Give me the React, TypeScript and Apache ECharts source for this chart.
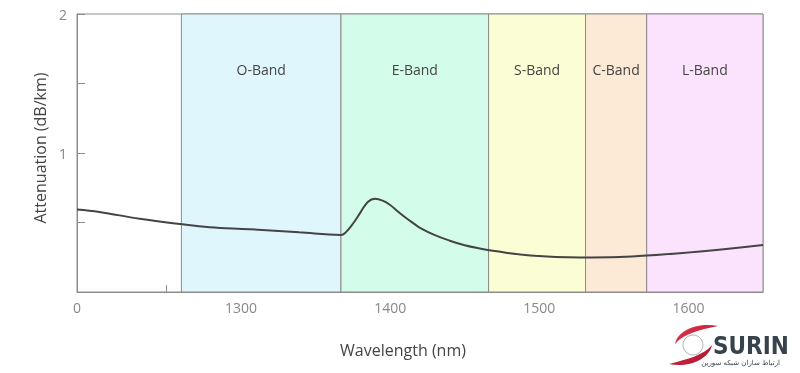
import React, { useEffect, useRef } from "react";
import * as echarts from "echarts";

// ---- data ----
const wavelengths = [1190, 1205, 1232, 1259, 1279, 1306, 1339, 1367, 1370, 1375, 1380, 1385, 1390, 1395, 1400, 1405, 1410, 1415, 1420, 1430, 1440, 1450, 1460, 1470, 1494, 1527, 1554, 1572, 1608, 1650];
const attenuation = [0.594, 0.576, 0.527, 0.489, 0.466, 0.452, 0.429, 0.41, 0.427, 0.491, 0.571, 0.648, 0.671, 0.657, 0.626, 0.581, 0.538, 0.499, 0.462, 0.409, 0.369, 0.336, 0.313, 0.295, 0.263, 0.249, 0.252, 0.262, 0.292, 0.338];

const bandNames = ["O-Band", "E-Band", "S-Band", "C-Band", "L-Band"];
const bandStarts = [1260, 1367, 1466, 1531, 1572];
const bandEnds = [1367, 1466, 1531, 1572, 1650];
const bandColors = ["#e0f6fd", "#d4fcea", "#fbfdd5", "#fce9d6", "#fbe3fd"];

const xMajorTicks = [1300, 1400, 1500, 1600];
const xLabelValues = [1190, 1300, 1400, 1500, 1600];
const xMinorTicks = [1250, 1350, 1450, 1550];
const xMin = 1190;
const xMax = 1650;

const LOGO_D =
  "M50 3 C32 -1 10 6 7 21 C15 11 31 7 50 3 Z M1 41 C19 45 41 37 44 22 C36 32 20 36 1 41 Z";

export default function App() {
  const ref = useRef<HTMLDivElement>(null);
  useEffect(() => {
    if (!ref.current) return;
    try {
      echarts.graphic.registerShape("logo", echarts.graphic.extendPath(LOGO_D, {}));
    } catch (e) {}
    const chart = echarts.init(ref.current, null, { renderer: "svg" });
    const gray = "#8c8c8c";
    const option: any = {
      animation: false,
      textStyle: { fontFamily: "Open Sans" },
      grid: {
        left: 77,
        top: 14,
        width: 686,
        height: 278,
        show: true,
        borderColor: gray,
        borderWidth: 1,
        backgroundColor: "transparent",
      },
      xAxis: [
        {
          type: "value",
          min: xMin,
          max: xMax,
          position: "bottom",
          name: "Wavelength (nm)",
          nameLocation: "middle",
          nameGap: 50,
          nameTextStyle: { fontSize: 16, color: "#444", fontFamily: "Open Sans", padding: [0, 34, 0, 0] },
          axisLine: { show: true, lineStyle: { color: gray } },
          axisTick: { show: true, inside: true, length: 12, customValues: xMajorTicks, lineStyle: { color: gray } },
          axisLabel: {
            customValues: xLabelValues,
            color: "#888",
            fontSize: 14,
            margin: 8,
            formatter: (v: number) => (v === xMin ? "0" : String(v)),
          },
          splitLine: { show: false },
        },
        {
          type: "value",
          min: xMin,
          max: xMax,
          position: "bottom",
          axisLine: { show: false },
          axisTick: { show: true, inside: true, length: 7, customValues: xMinorTicks, lineStyle: { color: gray } },
          axisLabel: { show: false },
          splitLine: { show: false },
        },
      ],
      yAxis: {
        type: "value",
        min: 0,
        max: 2,
        interval: 0.5,
        name: "Attenuation (dB/km)",
        nameLocation: "middle",
        nameGap: 27,
        nameTextStyle: { fontSize: 16, color: "#444", fontFamily: "Open Sans", padding: [0, 0, 0, 10] },
        axisLine: { show: true, lineStyle: { color: gray } },
        axisTick: { show: true, inside: true, length: 8, lineStyle: { color: gray } },
        axisLabel: {
          color: "#888",
          fontSize: 14,
          margin: 10,
          formatter: (v: number) => (v === 1 || v === 2 ? String(v) : ""),
        },
        splitLine: { show: false },
      },
      series: [
        {
          type: "line",
          data: [],
          z: 1,
          silent: true,
          markArea: {
            silent: true,
            data: bandNames.map((n, i) => [
              {
                name: n,
                xAxis: bandStarts[i],
                itemStyle: { color: bandColors[i], borderColor: gray, borderWidth: 1 },
              },
              { xAxis: bandEnds[i] },
            ]),
            label: {
              show: true,
              position: ["50%", 56],
              align: "center",
              verticalAlign: "middle",
              color: "#444",
              fontSize: 14,
              fontFamily: "Open Sans",
            },
          },
        },
        {
          type: "line",
          z: 3,
          data: wavelengths.map((w, i) => [w, attenuation[i]]),
          smooth: 0.4,
          showSymbol: false,
          symbol: "none",
          lineStyle: { color: "#444", width: 2 },
        },
      ],
      graphic: [
        {
          type: "logo",
          x: 668,
          y: 323,
          scaleX: 1,
          scaleY: 1,
          style: {
            fill: new echarts.graphic.LinearGradient(0, 0, 1, 1, [
              { offset: 0, color: "#e8354f" },
              { offset: 1, color: "#a5132a" },
            ]),
          },
        },
        {
          type: "circle",
          shape: { cx: 693, cy: 345, r: 10 },
          style: { fill: "none", stroke: "#9aa0a6", lineWidth: 0.8 },
        },
        {
          type: "text",
          x: 713,
          y: 334,
          style: {
            text: "SURIN",
            fontSize: 24,
            fontWeight: "bold",
            fontFamily: "Liberation Sans Narrow, DejaVu Sans Condensed, sans-serif",
            fill: "#37424d",
          },
        },
        {
          type: "text",
          x: 780,
          y: 359,
          style: {
            text: "ارتباط سازان شبکه سورین",
            fontSize: 7,
            fontFamily: "DejaVu Sans",
            fill: "#37424d",
            align: "right",
          },
        },
      ],
    };
    chart.setOption(option);
    return () => chart.dispose();
  }, []);
  return (
    <div
      ref={ref}
      style={{ position: "fixed", left: 0, top: 0, width: 800, height: 373 }}
    />
  );
}
